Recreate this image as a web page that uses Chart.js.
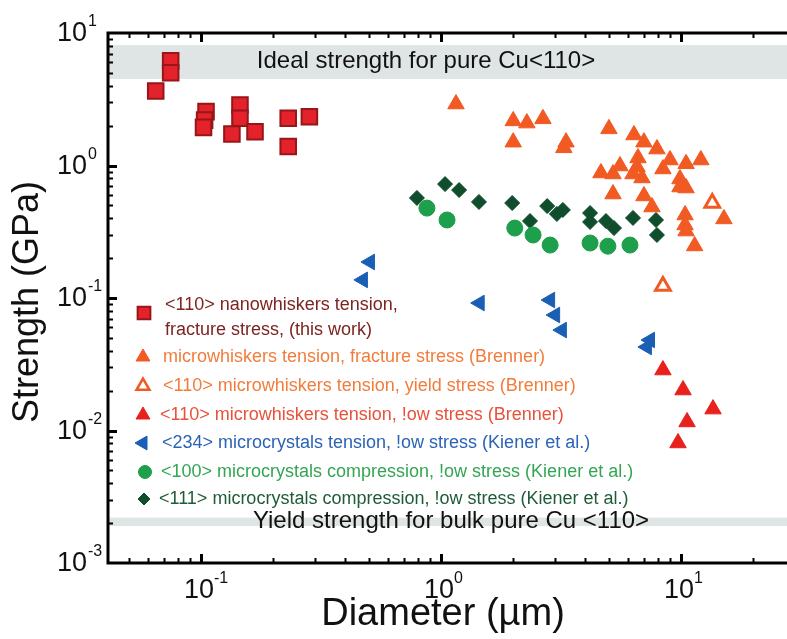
<!DOCTYPE html>
<html>
<head>
<meta charset="utf-8">
<script src="https://cdn.jsdelivr.net/npm/chart.js@4.4.1/dist/chart.umd.min.js"></script>
<style>
  html, body { margin: 0; padding: 0; background: #fff; }
  canvas { display: block; }
</style>
</head>
<body>
<canvas id="strengthChart" width="787" height="639"></canvas>
<script>
// Strength (GPa) vs diameter (um), Cu whiskers and microcrystals
const nanowhiskers = [[0.0748, 6.18], [0.0748, 5.01], [0.0648, 3.65], [0.105, 2.55], [0.1036, 2.20],
  [0.1025, 1.94], [0.1454, 2.86], [0.1454, 2.27], [0.1346, 1.73], [0.168, 1.80], [0.231, 2.27],
  [0.283, 2.33], [0.231, 1.39]];
const brennerFracture = [[1.155, 2.91], [2.0, 2.17], [2.28, 2.09], [2.66, 2.25], [2.0, 1.50],
  [3.32, 1.50], [3.25, 1.36], [5.01, 1.89], [6.37, 1.70], [7.01, 1.50], [7.94, 1.33], [9.0, 1.10],
  [8.41, 0.941], [10.5, 1.03], [12.1, 1.10], [6.62, 1.14], [6.56, 0.974], [5.57, 0.991], [4.64, 0.878],
  [5.21, 0.863], [6.31, 0.863], [6.88, 0.805], [9.9, 0.791], [9.9, 0.688], [10.5, 0.676], [5.21, 0.609],
  [7.01, 0.589], [7.57, 0.486], [10.4, 0.423], [10.4, 0.356], [10.5, 0.320], [11.4, 0.247], [15.1, 0.395]];
const brennerYield = [[13.5, 0.521], [8.41, 0.123]];
const brennerFlow = [[8.41, 0.0286], [10.2, 0.0202], [13.6, 0.0145], [10.6, 0.0116], [9.72, 0.00805]];
const kienerTension = [[0.506, 0.187], [0.473, 0.137], [1.45, 0.0917], [2.85, 0.0966], [2.99, 0.0744],
  [3.19, 0.0573], [7.43, 0.0482], [7.21, 0.0427]];
const kienerComp100 = [[0.874, 0.477], [1.06, 0.388], [2.03, 0.337], [2.42, 0.299], [2.85, 0.251],
  [4.18, 0.260], [4.96, 0.246], [6.13, 0.251]];
const kienerComp111 = [[0.794, 0.569], [1.04, 0.724], [1.19, 0.653], [1.44, 0.531], [1.98, 0.521],
  [2.35, 0.381], [2.77, 0.494], [3.04, 0.431], [3.22, 0.462], [4.18, 0.438], [4.18, 0.375], [4.87, 0.381],
  [5.26, 0.337], [6.31, 0.402], [7.87, 0.388], [7.94, 0.299]];

const seriesNames = [
  ['<110> nanowhiskers tension,', 'fracture stress, (this work)'],
  ['microwhiskers tension, fracture stress (Brenner)'],
  ['<110> microwhiskers tension, yield stress (Brenner)'],
  ['<110> microwhiskers tension, !ow stress (Brenner)'],
  ['<234> microcrystals tension, !ow stress (Kiener et al.)'],
  ['<100> microcrystals compression, !ow stress (Kiener et al.)'],
  ['<111> microcrystals compression, !ow stress (Kiener et al.)']
];

// reference strength bands (GPa)
const idealBand = [4.5, 8.1];
const yieldBand = [0.0019, 0.0022];
const bandLabels = ['Ideal strength for pure Cu<110>', 'Yield strength for bulk pure Cu <110>'];

// axis ticks: decade values and their exponent labels
const xTickValues = [0.1, 1, 10];
const xTickExps = ['-1', '0', '1'];
const yTickValues = [10, 1, 0.1, 0.01, 0.001];
const yTickExps = ['1', '0', '-1', '-2', '-3'];

const FONT = '"Liberation Sans", Arial, sans-serif';

function toPoints(arr) {
  return arr.map(p => ({ x: p[0], y: p[1] }));
}

const datasets = [
  { data: toPoints(nanowhiskers), pointStyle: 'rect', pointRadius: 11, backgroundColor: '#e3222b',
    borderColor: '#981518', borderWidth: 2, legendColor: '#7d2421', legendRadius: 9 },
  { data: toPoints(brennerFracture), pointStyle: 'triangle', pointRadius: 9.5, backgroundColor: '#f15a22',
    borderColor: '#f15a22', borderWidth: 1, legendColor: '#f27c3c', legendRadius: 8 },
  { data: toPoints(brennerYield), pointStyle: 'triangle', pointRadius: 8.5, backgroundColor: '#ffffff',
    borderColor: '#f15a22', borderWidth: 3, legendColor: '#f27c3c', legendRadius: 7.5 },
  { data: toPoints(brennerFlow), pointStyle: 'triangle', pointRadius: 9.5, backgroundColor: '#e8211d',
    borderColor: '#e8211d', borderWidth: 1, legendColor: '#e8513b', legendRadius: 8 },
  { data: toPoints(kienerTension), pointStyle: 'triangle', rotation: -90, pointRadius: 9, backgroundColor: '#1b5fb5',
    borderColor: '#1b5fb5', borderWidth: 1, legendColor: '#2c63b5', legendRadius: 8 },
  { data: toPoints(kienerComp100), pointStyle: 'circle', pointRadius: 8, backgroundColor: '#1d9f4b',
    borderColor: '#1d9f4b', borderWidth: 1, legendColor: '#33a653', legendRadius: 6.5 },
  { data: toPoints(kienerComp111), pointStyle: 'rectRot', pointRadius: 7.5, backgroundColor: '#0f4d2c',
    borderColor: '#0f4d2c', borderWidth: 1, legendColor: '#1e5b37', legendRadius: 6 }
];

// white page, grey bands and their labels behind the markers
const bandsPlugin = {
  id: 'bands',
  beforeDraw(chart) {
    const ctx = chart.ctx;
    ctx.save();
    ctx.fillStyle = '#ffffff';
    ctx.fillRect(0, 0, chart.width, chart.height);
    ctx.restore();
  },
  beforeDatasetsDraw(chart) {
    const { ctx, chartArea: a, scales: { x, y } } = chart;
    ctx.save();
    [idealBand, yieldBand].forEach(b => {
      const top = y.getPixelForValue(b[1]);
      const bottom = y.getPixelForValue(b[0]);
      ctx.fillStyle = '#dfe4e4';
      ctx.fillRect(a.left, top, a.right - a.left, bottom - top);
    });
    ctx.fillStyle = '#111';
    ctx.font = '24px ' + FONT;
    ctx.textAlign = 'center';
    ctx.textBaseline = 'middle';
    ctx.fillText(bandLabels[0], 426, y.getPixelForValue(Math.sqrt(idealBand[0] * idealBand[1])) - 1);
    ctx.fillText(bandLabels[1], 451, y.getPixelForValue(Math.sqrt(yieldBand[0] * yieldBand[1])));
    ctx.restore();
  }
};

// legend with the dataset marker styles
const legendPlugin = {
  id: 'inlineLegend',
  afterDatasetsDraw(chart) {
    const { ctx, chartArea: a } = chart;
    const rows = [280, 324, 353, 382, 410, 439, 466];
    const markX = [36, 35, 35, 35, 35, 37, 36];
    const textX = [57, 55, 55, 52, 54, 53, 51];
    ctx.save();
    ctx.font = '18px ' + FONT;
    ctx.textBaseline = 'middle';
    ctx.textAlign = 'left';
    datasets.forEach((ds, i) => {
      const my = a.top + rows[i];
      ctx.fillStyle = ds.backgroundColor;
      ctx.strokeStyle = ds.borderColor;
      ctx.lineWidth = ds.pointStyle === 'triangle' && ds.backgroundColor === '#ffffff' ? 2.5 : ds.borderWidth;
      Chart.helpers.drawPoint(ctx, {
        pointStyle: ds.pointStyle, rotation: ds.rotation || 0,
        radius: ds.legendRadius, borderWidth: ctx.lineWidth
      }, a.left + markX[i], my);
      ctx.fillStyle = ds.legendColor;
      const lines = seriesNames[i];
      if (lines.length === 2) {
        ctx.fillText(lines[0], a.left + textX[i], my - 8);
        ctx.fillText(lines[1], a.left + textX[i], my + 17);
      } else {
        ctx.fillText(lines[0], a.left + textX[i], my);
      }
    });
    ctx.restore();
  }
};

// frame, inward ticks, power-of-ten labels and axis titles
const axesPlugin = {
  id: 'axesFrame',
  afterDraw(chart) {
    const { ctx, chartArea: a, scales: { x, y } } = chart;
    ctx.save();
    ctx.strokeStyle = '#000';
    ctx.lineCap = 'butt';

    function minorValues(scale) {
      const out = [];
      for (let e = -4; e <= 2; e++) {
        for (let m = 1; m <= 9; m++) {
          const v = m * Math.pow(10, e);
          if (v > scale.min * 1.001 && v < scale.max * 0.999) out.push({ v, major: m === 1 });
        }
      }
      return out;
    }

    minorValues(x).forEach(t => {
      const px = Math.round(x.getPixelForValue(t.v)) + 0.5;
      const len = t.major ? 9 : 5;
      ctx.lineWidth = t.major ? 3 : 2;
      ctx.beginPath();
      ctx.moveTo(px, a.bottom); ctx.lineTo(px, a.bottom - len);
      ctx.moveTo(px, a.top); ctx.lineTo(px, a.top + len);
      ctx.stroke();
    });
    minorValues(y).forEach(t => {
      const py = Math.round(y.getPixelForValue(t.v)) + 0.5;
      const len = t.major ? 9 : 5;
      ctx.lineWidth = t.major ? 3 : 2;
      ctx.beginPath();
      ctx.moveTo(a.left, py); ctx.lineTo(a.left + len, py);
      ctx.stroke();
    });

    ctx.lineWidth = 3;
    ctx.beginPath();
    ctx.moveTo(a.left, a.top); ctx.lineTo(a.right, a.top);
    ctx.moveTo(a.left, a.top - 1.5); ctx.lineTo(a.left, a.bottom + 1.5);
    ctx.moveTo(a.left, a.bottom); ctx.lineTo(a.right, a.bottom);
    ctx.stroke();

    ctx.fillStyle = '#111';
    ctx.textBaseline = 'middle';
    yTickValues.forEach((v, i) => {
      const py = y.getPixelForValue(v);
      ctx.font = '27px ' + FONT;
      ctx.textAlign = 'right';
      ctx.fillText('10', 87, py + 1);
      ctx.font = '16px ' + FONT;
      ctx.textAlign = 'left';
      ctx.fillText(yTickExps[i], 88, py - 11);
    });
    xTickValues.forEach((v, i) => {
      const px = x.getPixelForValue(v);
      ctx.font = '27px ' + FONT;
      ctx.textAlign = 'center';
      ctx.fillText('10', px - 2, a.bottom + 28);
      ctx.font = '16px ' + FONT;
      ctx.textAlign = 'left';
      ctx.fillText(xTickExps[i], px + 13, a.bottom + 16);
    });

    ctx.font = '38px ' + FONT;
    ctx.textAlign = 'center';
    ctx.fillText('Diameter (\u00b5m)', 443, 615);
    ctx.translate(28, 302);
    ctx.rotate(-Math.PI / 2);
    ctx.font = '36px ' + FONT;
    ctx.fillText('Strength (GPa)', 0, 0);
    ctx.restore();
  }
};

new Chart(document.getElementById('strengthChart'), {
  type: 'scatter',
  data: { datasets },
  options: {
    responsive: false,
    animation: false,
    layout: { autoPadding: false, padding: { left: 108, top: 33, right: 0, bottom: 76 } },
    plugins: { legend: { display: false }, tooltip: { enabled: false } },
    scales: {
      x: { type: 'logarithmic', min: 0.041, max: 27.65, display: false },
      y: { type: 'logarithmic', min: 0.001, max: 10, display: false }
    }
  },
  plugins: [bandsPlugin, legendPlugin, axesPlugin]
});
</script>
</body>
</html>
